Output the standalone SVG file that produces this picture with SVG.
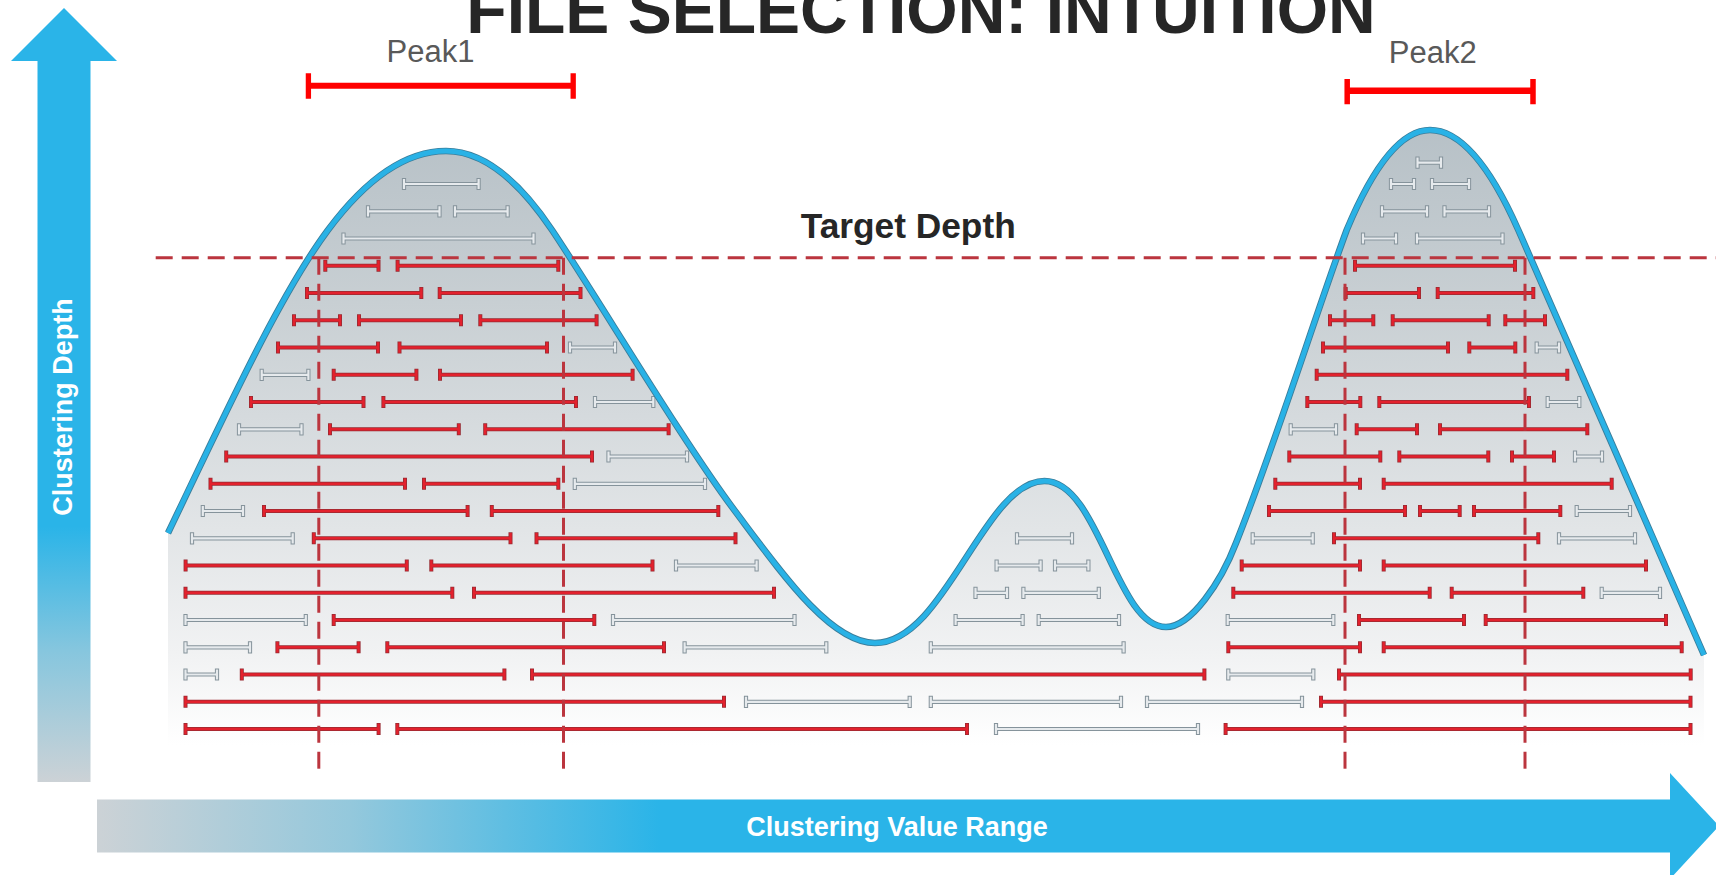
<svg xmlns="http://www.w3.org/2000/svg" xmlns:xlink="http://www.w3.org/1999/xlink" width="1716" height="875" viewBox="0 0 1716 875">
  <style>
    .title { font-family: "Liberation Sans", Arial, sans-serif; font-weight: bold; fill: #262626; }
    .peak { font-family: "Liberation Sans", Arial, sans-serif; font-size: 31px; fill: #595959; }
    .axis { font-family: "Liberation Sans", Arial, sans-serif; font-weight: bold; font-size: 27px; fill: #ffffff; }
    .dash { fill: none; stroke: #bb353e; stroke-width: 3; stroke-dasharray: 17 9; }
    .peakbar { fill: none; stroke: #ff0000; }
    .bars { fill: none; stroke-linecap: square; }
  </style>
  <defs>
    <linearGradient id="vArrow" gradientUnits="userSpaceOnUse" x1="0" y1="8" x2="0" y2="782">
      <stop offset="0" stop-color="#2ab4e8"/>
      <stop offset="0.67" stop-color="#2ab4e8"/>
      <stop offset="0.83" stop-color="#86c6de"/>
      <stop offset="1" stop-color="#ccd2d6"/>
    </linearGradient>
    <linearGradient id="hArrow" gradientUnits="userSpaceOnUse" x1="97" y1="0" x2="660" y2="0">
      <stop offset="0" stop-color="#ccd2d6"/>
      <stop offset="0.45" stop-color="#94c8dc"/>
      <stop offset="1" stop-color="#2ab4e8"/>
    </linearGradient>
    <linearGradient id="hillFill" gradientUnits="userSpaceOnUse" x1="0" y1="130" x2="0" y2="745">
      <stop offset="0" stop-color="#b7c1c7"/>
      <stop offset="0.28" stop-color="#c8cfd3"/>
      <stop offset="0.65" stop-color="#e2e5e7"/>
      <stop offset="0.85" stop-color="#f1f2f3"/>
      <stop offset="1" stop-color="#ffffff"/>
    </linearGradient>

    <!-- outline of the value distribution -->
    <path id="curvePath" d="M168,533 C221,423 278,297 328,230 Q387,151 446,151 Q499,151 552,230 C597,297 682.5,441 735,511 C780,571 830,643 875,643 C945,643 984,481 1044.5,481 C1099,481 1116,627 1166,627 C1191,627 1221,582 1236,543 C1274,448 1316,313 1346.7,230 Q1388.4,130 1430,130 Q1474,130 1518.3,230 C1532,262 1686,612 1704,655"/>

    <!-- interval bars: each is a span with a tick at both ends -->
    <g id="greyBars">
      <path d="M1417.5 162.7H1441M1417.5 158.7v8M1441 158.7v8
M404 184H478.6M404 180v8M478.6 180v8
M1391 184H1414M1391 180v8M1414 180v8
M1432 184H1469M1432 180v8M1469 180v8
M368 211.3H439.5M368 207.3v8M439.5 207.3v8
M455 211.3H507.6M455 207.3v8M507.6 207.3v8
M1382 211.3H1427M1382 207.3v8M1427 207.3v8
M1444.5 211.3H1489M1444.5 207.3v8M1489 207.3v8
M343.5 238.5H533.5M343.5 234.5v8M533.5 234.5v8
M1363 238.5H1396M1363 234.5v8M1396 234.5v8
M1417 238.5H1502.5M1417 234.5v8M1502.5 234.5v8
M570 347.5H615M570 343.5v8M615 343.5v8
M1536.7 347.5H1559M1536.7 343.5v8M1559 343.5v8
M261.7 374.8H308.4M261.7 370.8v8M308.4 370.8v8
M595 402H653.3M595 398v8M653.3 398v8
M1547.7 402H1579.3M1547.7 398v8M1579.3 398v8
M239 429.3H301.5M239 425.3v8M301.5 425.3v8
M1290.7 429.3H1336M1290.7 425.3v8M1336 425.3v8
M608.5 456.5H687M608.5 452.5v8M687 452.5v8
M1575 456.5H1602M1575 452.5v8M1602 452.5v8
M574.8 483.8H705M574.8 479.8v8M705 479.8v8
M202.8 511H243M202.8 507v8M243 507v8
M1576.7 511H1630M1576.7 507v8M1630 507v8
M192 538.3H292.7M192 534.3v8M292.7 534.3v8
M1017 538.3H1072M1017 534.3v8M1072 534.3v8
M1252.7 538.3H1312.7M1252.7 534.3v8M1312.7 534.3v8
M1559 538.3H1635M1559 534.3v8M1635 534.3v8
M676 565.5H756.6M676 561.5v8M756.6 561.5v8
M996.6 565.5H1040.6M996.6 561.5v8M1040.6 561.5v8
M1055 565.5H1088.4M1055 561.5v8M1088.4 561.5v8
M975.5 592.8H1007M975.5 588.8v8M1007 588.8v8
M1023.4 592.8H1098.8M1023.4 588.8v8M1098.8 588.8v8
M1601.7 592.8H1660M1601.7 588.8v8M1660 588.8v8
M185.5 620H305.8M185.5 616v8M305.8 616v8
M613 620H794.5M613 616v8M794.5 616v8
M955.6 620H1022.6M955.6 616v8M1022.6 616v8
M1038.7 620H1119M1038.7 616v8M1119 616v8
M1227.7 620H1333.3M1227.7 616v8M1333.3 616v8
M185.5 647.3H250M185.5 643.3v8M250 643.3v8
M684.6 647.3H826.3M684.6 643.3v8M826.3 643.3v8
M930.8 647.3H1123.6M930.8 643.3v8M1123.6 643.3v8
M185.5 674.5H217M185.5 670.5v8M217 670.5v8
M1228.3 674.5H1313.3M1228.3 670.5v8M1313.3 670.5v8
M746 701.8H909.7M746 697.8v8M909.7 697.8v8
M930.8 701.8H1121M930.8 697.8v8M1121 697.8v8
M1147 701.8H1302M1147 697.8v8M1302 697.8v8
M996 729H1198M996 725v8M1198 725v8"/>
    </g>
    <g id="redBars">
      <path d="M325.3 265.8H378.5M325.3 261.8v8M378.5 261.8v8
M397.6 265.8H558.3M397.6 261.8v8M558.3 261.8v8
M1355 265.8H1515M1355 261.8v8M1515 261.8v8
M307 293H421.3M307 289v8M421.3 289v8
M439.7 293H580.5M439.7 289v8M580.5 289v8
M1345.7 293H1419M1345.7 289v8M1419 289v8
M1437.7 293H1533.3M1437.7 289v8M1533.3 289v8
M294 320.3H340M294 316.3v8M340 316.3v8
M359 320.3H461M359 316.3v8M461 316.3v8
M480.3 320.3H596.6M480.3 316.3v8M596.6 316.3v8
M1330 320.3H1373.3M1330 316.3v8M1373.3 316.3v8
M1392.7 320.3H1488.7M1392.7 316.3v8M1488.7 316.3v8
M1505.3 320.3H1545M1505.3 316.3v8M1545 316.3v8
M278 347.5H378M278 343.5v8M378 343.5v8
M399.5 347.5H547M399.5 343.5v8M547 343.5v8
M1323 347.5H1448M1323 343.5v8M1448 343.5v8
M1469.3 347.5H1515.3M1469.3 343.5v8M1515.3 343.5v8
M333.7 374.8H416.4M333.7 370.8v8M416.4 370.8v8
M440 374.8H632.6M440 370.8v8M632.6 370.8v8
M1316.7 374.8H1567.3M1316.7 370.8v8M1567.3 370.8v8
M251 402H363.5M251 398v8M363.5 398v8
M383.4 402H576M383.4 398v8M576 398v8
M1307.3 402H1360.3M1307.3 398v8M1360.3 398v8
M1379.3 402H1529M1379.3 398v8M1529 398v8
M330 429.3H458.8M330 425.3v8M458.8 425.3v8
M485.2 429.3H668.6M485.2 425.3v8M668.6 425.3v8
M1356.7 429.3H1417M1356.7 425.3v8M1417 425.3v8
M1440 429.3H1587.3M1440 425.3v8M1587.3 425.3v8
M226.2 456.5H592M226.2 452.5v8M592 452.5v8
M1289.3 456.5H1380.3M1289.3 452.5v8M1380.3 452.5v8
M1399.3 456.5H1488.3M1399.3 452.5v8M1488.3 452.5v8
M1512 456.5H1554M1512 452.5v8M1554 452.5v8
M210.5 483.8H405M210.5 479.8v8M405 479.8v8
M424 483.8H558.3M424 479.8v8M558.3 479.8v8
M1275.3 483.8H1360M1275.3 479.8v8M1360 479.8v8
M1383.7 483.8H1611.7M1383.7 479.8v8M1611.7 479.8v8
M264 511H467.6M264 507v8M467.6 507v8
M491.8 511H718.3M491.8 507v8M718.3 507v8
M1269 511H1405M1269 507v8M1405 507v8
M1420 511H1459.7M1420 507v8M1459.7 507v8
M1474 511H1560.3M1474 507v8M1560.3 507v8
M313.8 538.3H510.5M313.8 534.3v8M510.5 534.3v8
M536.5 538.3H735.5M536.5 534.3v8M735.5 534.3v8
M1334 538.3H1538.3M1334 534.3v8M1538.3 534.3v8
M185.6 565.5H406.8M185.6 561.5v8M406.8 561.5v8
M431.3 565.5H652.5M431.3 561.5v8M652.5 561.5v8
M1241.7 565.5H1360M1241.7 561.5v8M1360 561.5v8
M1383.7 565.5H1646M1383.7 561.5v8M1646 561.5v8
M185.5 592.8H452.3M185.5 588.8v8M452.3 588.8v8
M474 592.8H774M474 588.8v8M774 588.8v8
M1233.3 592.8H1429.7M1233.3 588.8v8M1429.7 588.8v8
M1451.7 592.8H1583.3M1451.7 588.8v8M1583.3 588.8v8
M333.7 620H594.3M333.7 616v8M594.3 616v8
M1359 620H1464M1359 616v8M1464 616v8
M1485.7 620H1666M1485.7 616v8M1666 616v8
M277.4 647.3H358.6M277.4 643.3v8M358.6 643.3v8
M387.3 647.3H664M387.3 643.3v8M664 643.3v8
M1228.3 647.3H1360M1228.3 643.3v8M1360 643.3v8
M1383.7 647.3H1681.7M1383.7 643.3v8M1681.7 643.3v8
M241.8 674.5H504.4M241.8 670.5v8M504.4 670.5v8
M532 674.5H1204.4M532 670.5v8M1204.4 670.5v8
M1339 674.5H1690.7M1339 670.5v8M1690.7 670.5v8
M185.5 701.8H724M185.5 697.8v8M724 697.8v8
M1321 701.8H1690.5M1321 697.8v8M1690.5 697.8v8
M185.5 729H378.6M185.5 725v8M378.6 725v8
M397.3 729H967M397.3 725v8M967 725v8
M1225.6 729H1690.5M1225.6 725v8M1690.5 725v8"/>
    </g>
  </defs>

  <rect width="1716" height="875" fill="#ffffff"/>

  <!-- title, partly above the top edge -->
  <text class="title" x="921" y="33" font-size="66" text-anchor="middle">FILE SELECTION: INTUITION</text>

  <!-- vertical axis arrow -->
  <g id="axis-depth">
    <polygon points="37.5,782 37.5,61 11,61 64,8 117,61 90.5,61 90.5,782" fill="url(#vArrow)"/>
    <text class="axis" transform="translate(72,407) rotate(-90)" text-anchor="middle">Clustering Depth</text>
  </g>

  <!-- horizontal axis arrow -->
  <g id="axis-range">
    <polygon points="97,799.5 1670,799.5 1670,773 1719,826 1670,879 1670,852.5 97,852.5" fill="url(#hArrow)"/>
    <text class="axis" x="897" y="836" text-anchor="middle">Clustering Value Range</text>
  </g>

  <!-- shaded area under the distribution -->
  <g id="distribution">
    <path fill="url(#hillFill)" d="M168,533 C221,423 278,297 328,230 Q387,151 446,151 Q499,151 552,230 C597,297 682.5,441 735,511 C780,571 830,643 875,643 C945,643 984,481 1044.5,481 C1099,481 1116,627 1166,627 C1191,627 1221,582 1236,543 C1274,448 1316,313 1346.7,230 Q1388.4,130 1430,130 Q1474,130 1518.3,230 C1532,262 1686,612 1704,655 L1704,745 L168,745 Z"/>
  </g>

  <!-- file intervals -->
  <g id="intervals" class="bars">
    <use xlink:href="#greyBars" href="#greyBars" stroke="#85939b" stroke-width="4.2"/>
    <use xlink:href="#greyBars" href="#greyBars" stroke="#e6eaed" stroke-width="2.2"/>
    <use xlink:href="#redBars" href="#redBars" stroke="#972b32" stroke-width="4"/>
    <use xlink:href="#redBars" href="#redBars" stroke="#e3212d" stroke-width="2.4"/>
  </g>

  <!-- curve stroke drawn over the bars: dark rim, then bright blue core -->
  <g id="curve" fill="none">
    <use xlink:href="#curvePath" href="#curvePath" stroke="#3a7d9a" stroke-width="6.6"/>
    <use xlink:href="#curvePath" href="#curvePath" stroke="#29b2e6" stroke-width="4.8"/>
  </g>

  <!-- target depth and peak bounds -->
  <g id="guides">
    <path class="dash" d="M155.7,257.7 H1716"/>
    <path class="dash" d="M318.8,257.7 V771.5"/>
    <path class="dash" d="M563.5,257.7 V771.5"/>
    <path class="dash" d="M1345,257.7 V771.5"/>
    <path class="dash" d="M1525,257.7 V771.5"/>
  </g>

  <g id="target-label">
    <text class="title" x="800.7" y="237.7" font-size="35.3">Target Depth</text>
  </g>

  <g id="peak1">
    <text class="peak" x="386.5" y="62">Peak1</text>
    <path class="peakbar" stroke-width="6" d="M308.4,85.7 H573.2"/>
    <path class="peakbar" stroke-width="5.3" d="M308.4,73.3 V98.7 M573.2,73.3 V98.7"/>
  </g>

  <g id="peak2">
    <text class="peak" x="1388.8" y="62.7">Peak2</text>
    <path class="peakbar" stroke-width="6.5" d="M1347.2,90.7 H1533"/>
    <path class="peakbar" stroke-width="5.5" d="M1347.2,79 V104.3 M1533,79 V104.3"/>
  </g>
</svg>
